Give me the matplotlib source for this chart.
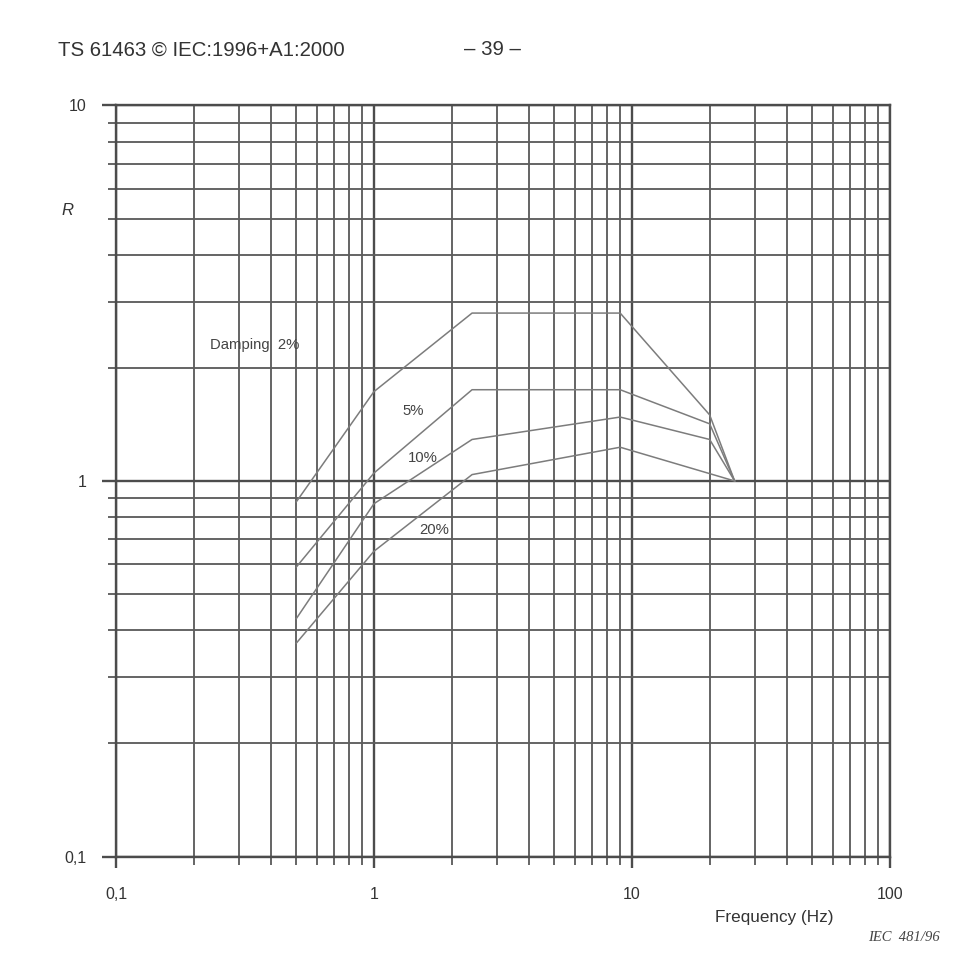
import matplotlib
matplotlib.use("Agg")
import matplotlib.pyplot as plt
from matplotlib.ticker import FixedLocator, FixedFormatter, NullFormatter

plt.rcParams['font.family'] = ['Liberation Sans', 'DejaVu Sans']

# ---- data ----
freq = [0.5, 1, 2.4, 9, 20, 25]
damping_2 = [0.88, 1.73, 2.8, 2.8, 1.5, 1.0]
damping_5 = [0.59, 1.05, 1.75, 1.75, 1.42, 1.0]
damping_10 = [0.43, 0.87, 1.29, 1.48, 1.29, 1.0]
freq_20 = [0.5, 1, 2.4, 9, 25]
damping_20 = [0.37, 0.65, 1.04, 1.23, 1.0]

x_major = [0.1, 1, 10, 100]
x_major_labels = ['0,1', '1', '10', '100']
y_major = [0.1, 1, 10]
y_major_labels = ['0,1', '1', '10']

curve_labels = ['Damping  2%', '5%', '10%', '20%']
label_pos = [(0.231, 2.30), (1.29, 1.54), (1.35, 1.15), (1.50, 0.74)]

# ---- figure ----
fig = plt.figure(figsize=(9.6, 9.72), dpi=100)
ax = fig.add_axes([0.1208, 0.1188, 0.80625, 0.7727])
ax.set_xscale('log')
ax.set_yscale('log')
ax.set_xlim(0.1, 100)
ax.set_ylim(0.1, 10)

major_col = '#4c4c4c'
minor_col = '#5e5e5e'
minor_x = [m * 10.0 ** e for e in (-1, 0, 1) for m in range(2, 10)]
minor_y = [m * 10.0 ** e for e in (-1, 0) for m in range(2, 10)]
ax.xaxis.set_major_locator(FixedLocator(x_major))
ax.xaxis.set_major_formatter(FixedFormatter(x_major_labels))
ax.xaxis.set_minor_locator(FixedLocator(minor_x))
ax.xaxis.set_minor_formatter(NullFormatter())
ax.yaxis.set_major_locator(FixedLocator(y_major))
ax.yaxis.set_major_formatter(FixedFormatter(y_major_labels))
ax.yaxis.set_minor_locator(FixedLocator(minor_y))
ax.yaxis.set_minor_formatter(NullFormatter())

ax.grid(which='major', color=major_col, linewidth=1.7)
ax.grid(which='minor', color=minor_col, linewidth=1.35)
ax.set_axisbelow(True)

for s in ax.spines.values():
    s.set_color(major_col)
    s.set_linewidth(1.7)

ax.tick_params(which='major', direction='out', length=8, width=1.7,
               color=major_col, labelsize=11.5, labelcolor='#333333')
ax.tick_params(which='minor', direction='out', length=6, width=1.35,
               color=minor_col)
ax.tick_params(axis='x', which='major', pad=14)
ax.tick_params(axis='y', which='major', pad=11, length=10)

line_kw = dict(color='#7c7c7c', linewidth=1.1)
ax.plot(freq, damping_2, **line_kw)
ax.plot(freq, damping_5, **line_kw)
ax.plot(freq, damping_10, **line_kw)
ax.plot(freq_20, damping_20, **line_kw)

for txt, (px, py) in zip(curve_labels, label_pos):
    ax.text(px, py, txt, fontsize=10.7, color='#444444', ha='left', va='center')

# ---- page texts ----
fig.text(0.0604, 0.9486, 'TS 61463 © IEC:1996+A1:2000', fontsize=14.7,
         color='#333333', ha='left', va='center')
fig.text(0.5135, 0.9486, '– 39 –', fontsize=14.7, color='#333333',
         ha='center', va='center')
fig.text(0.0708, 0.7832, 'R', fontsize=12, style='italic', color='#333333',
         ha='center', va='center')
fig.text(0.806, 0.0556, 'Frequency (Hz)', fontsize=12.3, color='#333333',
         ha='center', va='center')
fig.text(0.904, 0.036, 'IEC  481/96', fontsize=10.5, style='italic',
         family=['Liberation Serif', 'DejaVu Serif'], color='#444444',
         ha='left', va='center')

fig.savefig('out.png', dpi=100, facecolor='white')
